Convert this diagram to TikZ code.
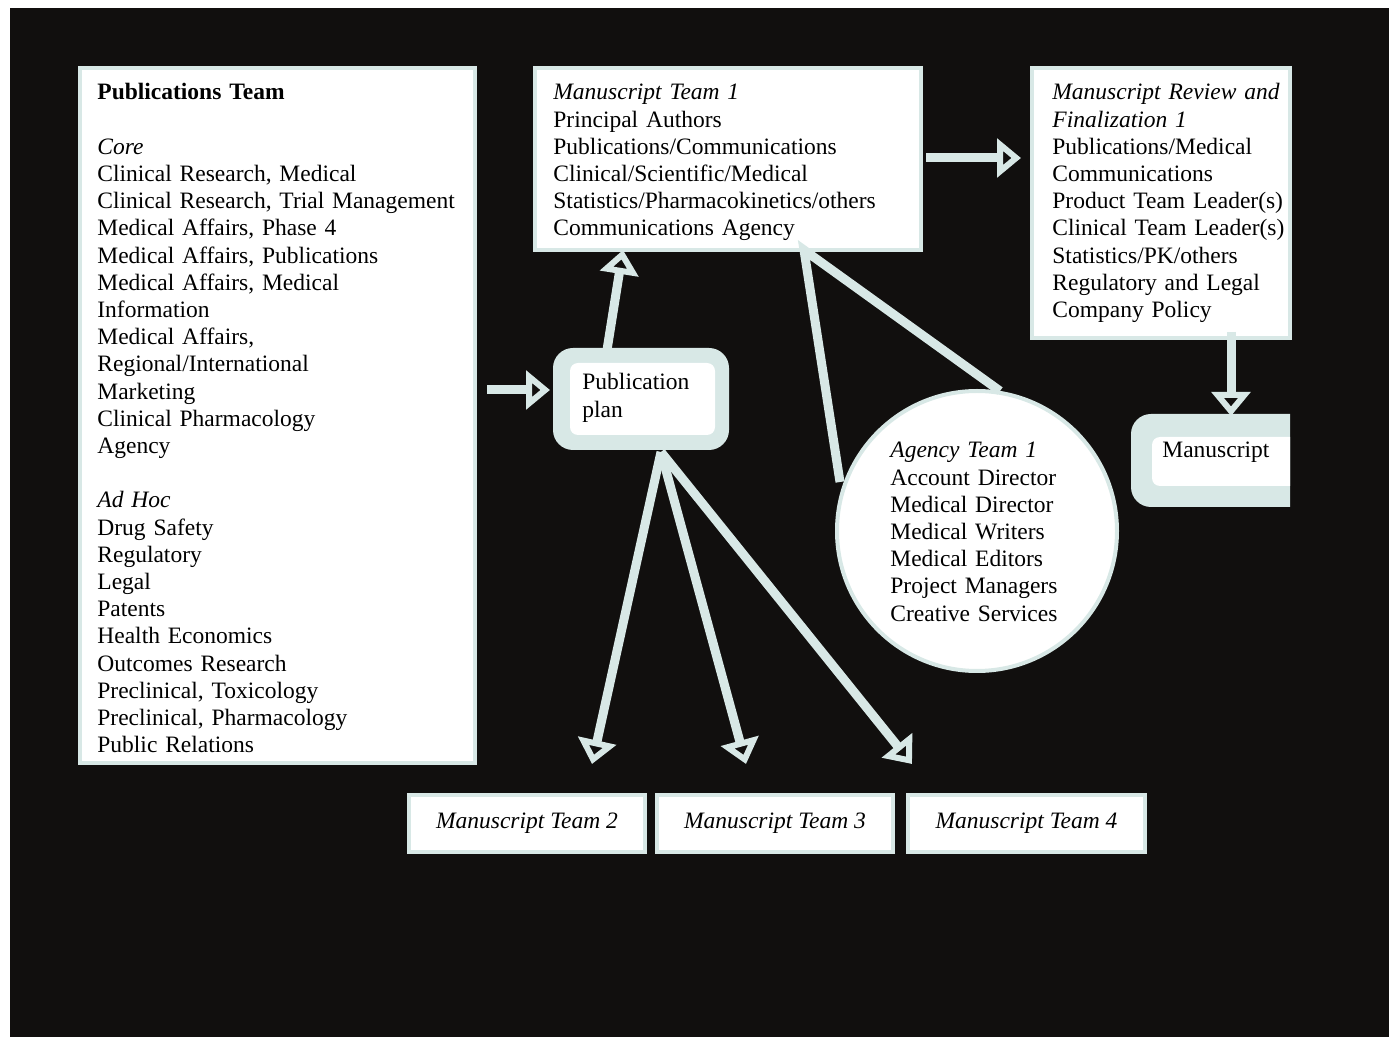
\documentclass[tikz,border=0pt]{standalone}
\usepackage{fontspec}
\setmainfont{Liberation Serif}
\usetikzlibrary{arrows.meta}
\definecolor{bg}{RGB}{17,15,14}
\definecolor{lc}{RGB}{216,232,230}
\begin{document}
\begin{tikzpicture}[x=0.5pt,y=-0.5pt,
  box/.style={draw=lc, line width=2pt, fill=white, inner sep=0pt, rectangle},
  txt/.style={inner sep=0pt, anchor=base west, align=left, text width=#1, font=\fontsize{11.75}{13.6}\selectfont},
  arr/.style={draw=lc, line width=4.5pt, -{Triangle[open,length=12pt,width=19pt,line width=3.5pt]}},
  link/.style={draw=lc, line width=4.5pt}]
\useasboundingbox (0,0) rectangle (1389,1037);
\fill[white] (0,0) rectangle (1389,1037);
\fill[bg] (10,8) rectangle (1389,1037);

% boxes
\node[box, minimum width=197.5pt, minimum height=347.5pt] (pub) at (277.5,415.5) {};
\node[box, minimum width=193pt, minimum height=91pt] (mt1) at (728,159) {};
\node[box, minimum width=129pt, minimum height=135pt] (rev) at (1161,203) {};
\node[box, minimum width=118pt, minimum height=28.5pt, font=\fontsize{11.75}{13.6}\selectfont\itshape] (mt2) at (527,823.5) {Manuscript Team 2};
\node[box, minimum width=118pt, minimum height=28.5pt, font=\fontsize{11.75}{13.6}\selectfont\itshape] (mt3) at (775,823.5) {Manuscript Team 3};
\node[box, minimum width=118.5pt, minimum height=28.5pt, font=\fontsize{11.75}{13.6}\selectfont\itshape] (mt4) at (1026.5,823.5) {Manuscript Team 4};
\node[circle, draw=lc, line width=2pt, fill=white, minimum size=140pt, inner sep=0pt] (ag) at (977,531) {};

% publication plan
\node[fill=lc, rounded corners=10pt, minimum width=88pt, minimum height=51pt, inner sep=0pt] (plan) at (641,399) {};
\fill[white, rounded corners=4pt] (570,363) rectangle (715,435);
\node[txt=80pt] (plantxt) at (582,390) {Publication\\plan};

% manuscript (clipped at right)
\begin{scope}
\clip (1100,400) rectangle (1290,520);
\node[fill=lc, rounded corners=10pt, minimum width=95pt, minimum height=46.5pt, inner sep=0pt] (ms) at (1226,460.5) {};
\fill[white, rounded corners=4pt] (1152,437) rectangle (1320,486);
\end{scope}
\node[txt=70pt] (mstxt) at (1162,458) {Manuscript};

% texts
\node[txt=195pt] (pubtxt) at (97,100) {\textbf{Publications Team}\\[13.6pt]
\textit{Core}\\
Clinical Research, Medical\\
Clinical Research, Trial Management\\
Medical Affairs, Phase 4\\
Medical Affairs, Publications\\
Medical Affairs, Medical\\
Information\\
Medical Affairs,\\
Regional/International\\
Marketing\\
Clinical Pharmacology\\
Agency\\[13.6pt]
\textit{Ad Hoc}\\
Drug Safety\\
Regulatory\\
Legal\\
Patents\\
Health Economics\\
Outcomes Research\\
Preclinical, Toxicology\\
Preclinical, Pharmacology\\
Public Relations};

\node[txt=185pt] (mt1txt) at (553,100) {\textit{Manuscript Team 1}\\
Principal Authors\\
Publications/Communications\\
Clinical/Scientific/Medical\\
Statistics/Pharmacokinetics/others\\
Communications Agency};

\node[txt=125pt] (revtxt) at (1052,100) {\textit{Manuscript Review and}\\
\textit{Finalization 1}\\
Publications/Medical\\
Communications\\
Product Team Leader(s)\\
Clinical Team Leader(s)\\
Statistics/PK/others\\
Regulatory and Legal\\
Company Policy};

\node[txt=110pt] (agtxt) at (890,458) {\textit{Agency Team 1}\\
Account Director\\
Medical Director\\
Medical Writers\\
Medical Editors\\
Project Managers\\
Creative Services};

% connector end points
\coordinate (a1s) at (487,390);
\coordinate (a1e) at (550,390);
\coordinate (a2s) at (607,350);
\coordinate (a2e) at (623,250);
\coordinate (a3s) at (926,158);
\coordinate (a3e) at (1021,158);
\coordinate (a4s) at (1231,332);
\coordinate (a4e) at (1231,416);
\coordinate (l0) at (804,250);
\coordinate (l1) at (840,482);
\coordinate (l2) at (1000,391);
\coordinate (p0) at (661,452);
\coordinate (t2e) at (592,764);
\coordinate (t3e) at (746,764);
\coordinate (t4e) at (912,764);

\draw[arr] (a1s) -- (a1e);
\draw[arr] (a2s) -- (a2e);
\draw[arr] (a3s) -- (a3e);
\draw[arr] (a4s) -- (a4e);
\draw[link] (l1) -- (l0) -- (l2);
\draw[arr] (p0) -- (t2e);
\draw[arr] (p0) -- (t3e);
\draw[arr] (p0) -- (t4e);
\end{tikzpicture}
\end{document}
